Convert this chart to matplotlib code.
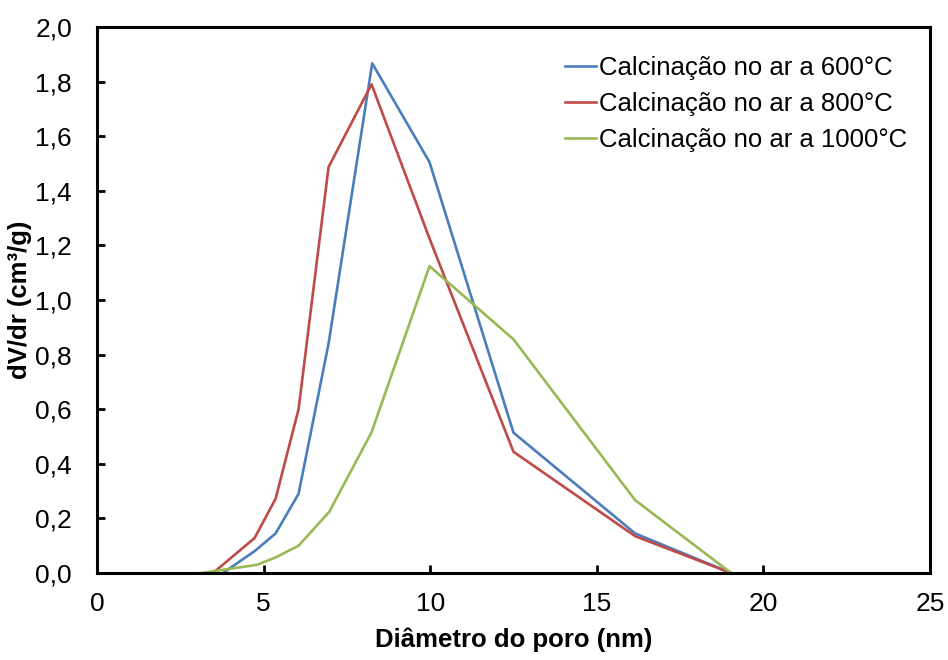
import matplotlib
matplotlib.use("Agg")
import matplotlib.pyplot as plt
from matplotlib.ticker import FuncFormatter

plt.rcParams['font.family'] = ['Liberation Sans', 'DejaVu Sans']

# pore diameter (nm) and dV/dr for each calcination temperature
x_600 = [3.78, 4.73, 5.36, 6.05, 6.95, 8.26, 9.98, 12.5, 16.15, 19.03]
y_600 = [0.0, 0.08, 0.145, 0.29, 0.84, 1.867, 1.505, 0.514, 0.145, 0.0]

x_800 = [3.48, 4.73, 5.36, 6.05, 6.95, 8.24, 9.98, 12.5, 16.15, 19.03]
y_800 = [0.0, 0.128, 0.272, 0.60, 1.487, 1.79, 1.225, 0.444, 0.135, 0.0]

x_1000 = [3.13, 4.8, 5.36, 6.05, 6.97, 8.24, 9.98, 12.5, 16.15, 19.03]
y_1000 = [0.0, 0.03, 0.057, 0.10, 0.224, 0.515, 1.124, 0.856, 0.267, 0.0]

labels = ['Calcinação no ar a 600°C', 'Calcinação no ar a 800°C',
          'Calcinação no ar a 1000°C']
colors = ['#4A7EBB', '#BE4B48', '#98B954']

fig = plt.figure(figsize=(9.48, 6.6), dpi=100)
ax = fig.add_axes([0.1023, 0.1318, 0.8787, 0.8273])

for xs, ys, lab, c in zip([x_600, x_800, x_1000], [y_600, y_800, y_1000],
                          labels, colors):
    ax.plot(xs, ys, color=c, linewidth=1.9, label=lab)

ax.set_xlim(0, 25)
ax.set_ylim(0, 2.0)
ax.set_xticks(range(0, 26, 5))
ax.set_yticks([i * 0.2 for i in range(11)])
ax.yaxis.set_major_formatter(FuncFormatter(lambda v, p: f"{v:.1f}".replace('.', ',')))

for s in ax.spines.values():
    s.set_linewidth(2.2)
ax.tick_params(axis='both', direction='in', length=6, width=2, labelsize=19)
ax.tick_params(axis='x', pad=14)
ax.tick_params(axis='y', pad=18)

ax.set_xlabel('Diâmetro do poro (nm)', fontsize=18.5, fontweight='bold', labelpad=8)
ax.set_ylabel('dV/dr (cm³/g)', fontsize=18.5, fontweight='bold', labelpad=2)

ax.legend(loc='upper right', frameon=False, fontsize=18.5, handlelength=1.2,
          handletextpad=0.12, labelspacing=0.45, borderaxespad=0.0,
          bbox_to_anchor=(0.985, 0.965))

fig.savefig('out.png', dpi=100)
